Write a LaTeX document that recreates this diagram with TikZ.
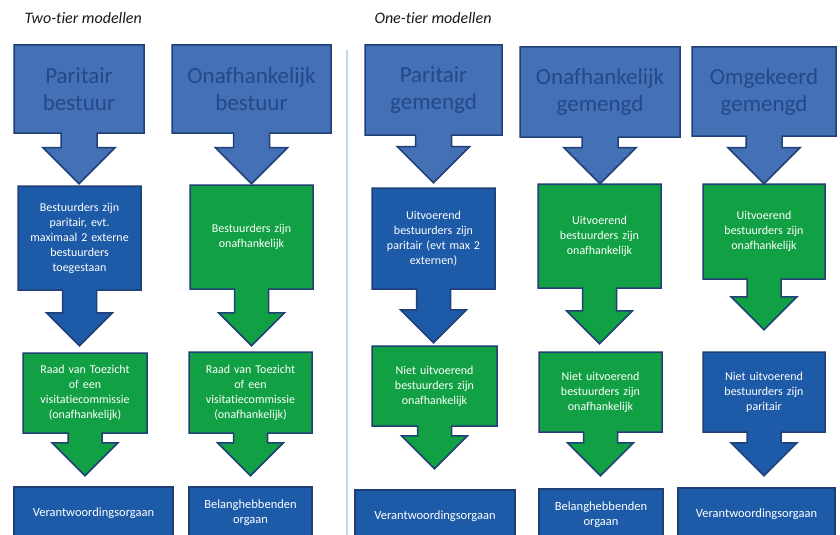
\documentclass[tikz,border=0pt]{standalone}
\usepackage{fontspec}
\setmainfont{Carlito}[Ligatures=CommonOff]
\usepackage{tikz}
\usetikzlibrary{shapes.arrows}
\definecolor{cTopBlue}{HTML}{4470B5}
\definecolor{cDarkBlue}{HTML}{1D5AA7}
\definecolor{cGreen}{HTML}{11A043}
\definecolor{cEdge}{HTML}{203F77}
\definecolor{cTopText}{HTML}{22498C}
\definecolor{cDivider}{HTML}{BDD7EE}
\tikzstyle{tBox} = [arrow box, draw=cEdge, line width=1.5pt, inner sep=0pt, align=center, arrow box north arrow=-1pt, arrow box east arrow=-1pt, arrow box west arrow=-1pt, arrow box tip angle=90]
\tikzstyle{tHead} = [tBox, fill=cTopBlue, text=cTopText, font=\fontsize{23}{27}\selectfont, arrow box shaft width=36pt, arrow box head extend=18pt]
\tikzstyle{tBlue} = [tBox, fill=cDarkBlue, text=white, font=\fontsize{12}{15}\selectfont, arrow box shaft width=34pt, arrow box head extend=16pt]
\tikzstyle{tGreen} = [tBlue, fill=cGreen]
\tikzstyle{tEnd} = [rectangle, draw=cEdge, line width=1.5pt, fill=cDarkBlue, text=white, font=\fontsize{12.5}{15}\selectfont, align=center, inner sep=0pt, minimum height=52pt]
\tikzstyle{tTitle} = [anchor=base west, text=black!90, font=\itshape\fontsize{16}{19}\selectfont]

\begin{document}
\begin{tikzpicture}[x=1pt, y=-1pt]
        \useasboundingbox (0,0) rectangle (840,535);
        \clip (0,0) rectangle (840,535);
        \node[tTitle] (TwoTier) at (21,24) {Two-tier modellen};
        \node[tTitle] (OneTier) at (371,24) {One-tier modellen};
        \draw[cDivider, line width=1.5pt] (347,50) -- (347,540);
        % two-tier: paritair bestuur
        \node[tHead, minimum width=130pt, minimum height=88pt, text width=125pt, arrow box south arrow=50pt] (ParBest) at (79,89) {Paritair\\bestuur};
        \node[tBlue, minimum width=123pt, minimum height=104pt, text width=118pt, arrow box south arrow=55pt] (ParBestA) at (79.5,238) {Bestuurders zijn\\paritair, evt.\\maximaal 2 externe\\bestuurders\\toegestaan};
        \node[tGreen, minimum width=124pt, minimum height=80pt, text width=119pt, arrow box south arrow=42pt] (ParBestB) at (85,393) {Raad van Toezicht\\of een\\visitatiecommissie\\(onafhankelijk)};
        \node[tEnd, minimum width=159pt] (ParBestC) at (93.5,513) {Verantwoordingsorgaan};
        % two-tier: onafhankelijk bestuur
        \node[tHead, minimum width=159pt, minimum height=88pt, text width=154pt, arrow box south arrow=50pt] (OnBest) at (251.5,89) {Onafhankelijk\\bestuur};
        \node[tGreen, minimum width=123pt, minimum height=104pt, text width=118pt, arrow box south arrow=56pt] (OnBestA) at (251.5,237) {Bestuurders zijn\\onafhankelijk};
        \node[tGreen, minimum width=123pt, minimum height=81pt, text width=118pt, arrow box south arrow=42pt] (OnBestB) at (250.5,392.5) {Raad van Toezicht\\of een\\visitatiecommissie\\(onafhankelijk)};
        \node[tEnd, minimum width=123pt] (OnBestC) at (250.5,513) {Belanghebbenden\\orgaan};
        % one-tier: paritair gemengd
        \node[tHead, minimum width=137pt, minimum height=90pt, text width=132pt, arrow box south arrow=47pt] (ParGem) at (433.5,90) {Paritair\\gemengd};
        \node[tBlue, minimum width=123pt, minimum height=101pt, text width=118pt, arrow box south arrow=53pt] (ParGemA) at (433.5,238.5) {Uitvoerend\\bestuurders zijn\\paritair (evt max 2\\externen)};
        \node[tGreen, minimum width=125pt, minimum height=80pt, text width=120pt, arrow box south arrow=42pt] (ParGemB) at (434.5,386) {Niet uitvoerend\\bestuurders zijn\\onafhankelijk};
        \node[tEnd, minimum width=160pt] (ParGemC) at (435,516) {Verantwoordingsorgaan};
        % one-tier: onafhankelijk gemengd
        \node[tHead, minimum width=160pt, minimum height=90pt, text width=155pt, arrow box south arrow=46pt] (OnGem) at (600,92) {Onafhankelijk\\gemengd};
        \node[tGreen, minimum width=123pt, minimum height=104pt, text width=118pt, arrow box south arrow=55pt] (OnGemA) at (599.5,236) {Uitvoerend\\bestuurders zijn\\onafhankelijk};
        \node[tGreen, minimum width=123pt, minimum height=80pt, text width=118pt, arrow box south arrow=43pt] (OnGemB) at (600.5,392) {Niet uitvoerend\\bestuurders zijn\\onafhankelijk};
        \node[tEnd, minimum width=124pt] (OnGemC) at (601,515) {Belanghebbenden\\orgaan};
        % one-tier: omgekeerd gemengd
        \node[tHead, minimum width=144pt, minimum height=89pt, text width=139pt, arrow box south arrow=47pt] (OmGem) at (764,91.5) {Omgekeerd\\gemengd};
        \node[tGreen, minimum width=122pt, minimum height=95pt, text width=117pt, arrow box south arrow=50pt] (OmGemA) at (764,231.5) {Uitvoerend\\bestuurders zijn\\onafhankelijk};
        \node[tBlue, minimum width=122pt, minimum height=80pt, text width=117pt, arrow box south arrow=43pt] (OmGemB) at (764,392) {Niet uitvoerend\\bestuurders zijn\\paritair};
        \node[tEnd, minimum width=157pt] (OmGemC) at (756.5,514) {Verantwoordingsorgaan};
    \end{tikzpicture}
\end{document}
